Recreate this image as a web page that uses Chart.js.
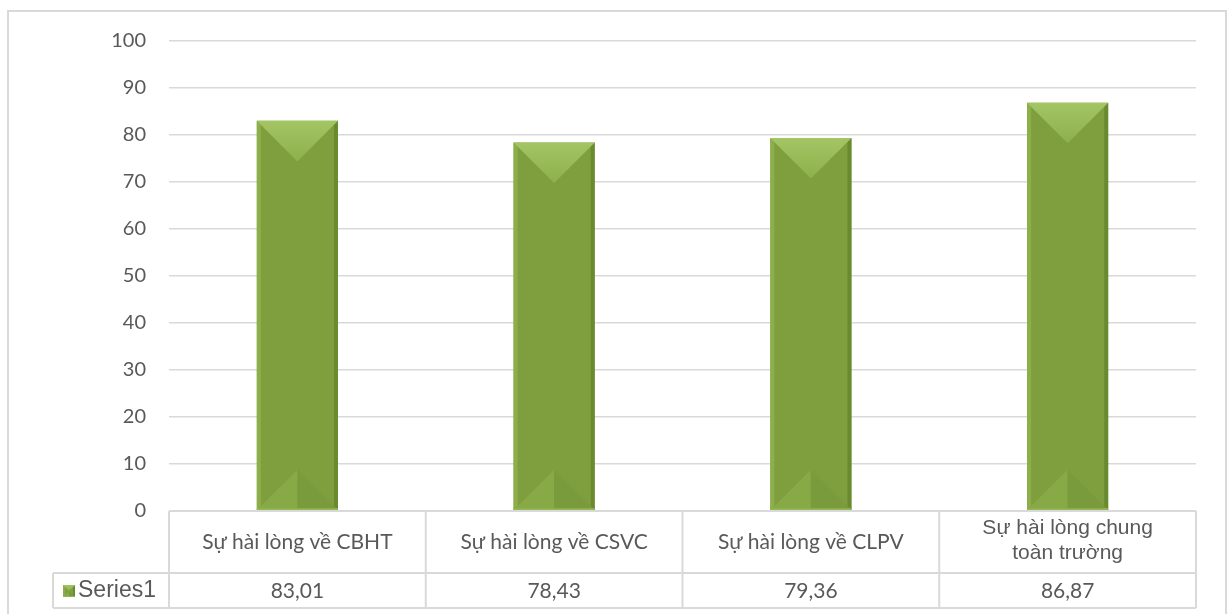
<!DOCTYPE html>
<html lang="vi">
<head>
  <meta charset="UTF-8" />
  <title>Sự hài lòng</title>
  <script src="https://cdn.jsdelivr.net/npm/chart.js"></script>
  <style>
    body {
      margin: 0;
      background: #ffffff;
      overflow: hidden;
    }
    #frame {
      position: absolute;
      left: 7px;
      top: 10px;
      width: 1216px;
      height: 620px;
      border: 2px solid #d9d9d9;
    }
    #satChart {
      position: absolute;
      left: 0;
      top: 0;
    }
  </style>
</head>
<body>
  <div id="frame"></div>
  <canvas id="satChart" width="1227" height="614"></canvas>

  <script>
    // du lieu doc tu bieu do
    const categories = [
      ["Sự hài lòng về CBHT"],
      ["Sự hài lòng về CSVC"],
      ["Sự hài lòng về CLPV"],
      ["Sự hài lòng chung", "toàn trường"]
    ];
    const seriesName = "Series1";
    const seriesValues = [83.01, 78.43, 79.36, 86.87];
    const yTicks = [0, 10, 20, 30, 40, 50, 60, 70, 80, 90, 100];

    const gridColor = "#d9d9d9";
    const textColor = "#595959";
    const calibriLike = "Lato, 'Open Sans', sans-serif";
    const arialLike = "'Liberation Sans', Arial, sans-serif";

    function fmt(v) {
      return v.toFixed(2).replace(".", ",");
    }

    function poly(ctx, pts, fill) {
      ctx.beginPath();
      ctx.moveTo(pts[0][0], pts[0][1]);
      for (let i = 1; i < pts.length; i++) ctx.lineTo(pts[i][0], pts[i][1]);
      ctx.closePath();
      ctx.fillStyle = fill;
      ctx.fill();
    }

    // hieu ung vat canh (bevel) giong Excel
    function bevel(ctx, L, T, R, B, e) {
      const w = R - L;
      const cx = (L + R) / 2;
      const d = Math.min(w / 2, (B - T) / 2);
      poly(ctx, [[L, T], [L + e, T + e], [L + e, B - e], [L, B]], "#8daf4b");
      poly(ctx, [[R, T], [R - e, T + e], [R - e, B - e], [R, B]], "#6a8a30");
      const g = ctx.createLinearGradient(0, T, 0, T + d);
      g.addColorStop(0, "#a3c564");
      g.addColorStop(1, "#8db04b");
      poly(ctx, [[L, T], [R, T], [cx, T + d]], g);
      poly(ctx, [[L, B], [cx, B - d], [cx, B]], "#88aa46");
      poly(ctx, [[cx, B], [cx, B - d], [R, B]], "#7a9b3c");
      ctx.fillStyle = "#93b552";
      ctx.fillRect(L, B - e / 2, w, e / 2);
    }

    const bevelPlugin = {
      id: "bevel",
      afterDatasetsDraw(chart) {
        const ctx = chart.ctx;
        const meta = chart.getDatasetMeta(0);
        ctx.save();
        meta.data.forEach((bar) => {
          const L = bar.x - bar.width / 2;
          const R = bar.x + bar.width / 2;
          bevel(ctx, L, bar.y, R, bar.base, 4);
        });
        ctx.restore();
      }
    };

    // bang du lieu duoi truc x
    const tablePlugin = {
      id: "dataTable",
      afterDraw(chart) {
        const ctx = chart.ctx;
        const xs = chart.scales.x;
        const area = chart.chartArea;
        const top = area.bottom;
        const mid = top + 62;
        const bot = top + 97;
        const legendLeft = 53;
        const half = (xs.getPixelForValue(1) - xs.getPixelForValue(0)) / 2;

        ctx.save();
        ctx.strokeStyle = gridColor;
        ctx.lineWidth = 2;
        ctx.beginPath();
        ctx.moveTo(area.left, top); ctx.lineTo(area.right, top);
        ctx.moveTo(legendLeft, mid); ctx.lineTo(area.right, mid);
        ctx.moveTo(legendLeft, bot); ctx.lineTo(area.right, bot);
        ctx.moveTo(legendLeft, mid); ctx.lineTo(legendLeft, bot);
        ctx.moveTo(area.left, top); ctx.lineTo(area.left, bot);
        categories.forEach((c, i) => {
          const xr = xs.getPixelForValue(i) + half;
          ctx.moveTo(xr, top); ctx.lineTo(xr, bot);
        });
        ctx.stroke();

        ctx.fillStyle = textColor;
        ctx.textAlign = "center";
        ctx.textBaseline = "middle";
        categories.forEach((c, i) => {
          const x = xs.getPixelForValue(i);
          if (c.length > 1) {
            ctx.font = "21px " + arialLike;
            c.forEach((line, k) => {
              ctx.fillText(line, x, top + 17 + k * 25);
            });
          } else {
            ctx.font = "21px " + calibriLike;
            ctx.fillText(c[0], x, top + 31);
          }
          ctx.font = "21px " + calibriLike;
          ctx.fillText(fmt(seriesValues[i]), x, mid + 18);
        });

        // o chu giai Series1
        const mx = 63, my = mid + 12, mw = 12, mh = 12;
        ctx.fillStyle = "#7f9f3f";
        ctx.fillRect(mx, my, mw, mh);
        bevel(ctx, mx, my, mx + mw, my + mh, 2);
        ctx.fillStyle = textColor;
        ctx.textAlign = "left";
        ctx.font = "23px " + arialLike;
        ctx.fillText(seriesName, 78, mid + 18);
        ctx.restore();
      }
    };

    const chart = new Chart(document.getElementById("satChart"), {
      type: "bar",
      data: {
        labels: categories,
        datasets: [{
          label: seriesName,
          data: seriesValues,
          backgroundColor: "#7f9f3f",
          borderWidth: 0,
          categoryPercentage: 1,
          barPercentage: 0.316
        }]
      },
      options: {
        responsive: false,
        animation: false,
        devicePixelRatio: 1,
        layout: {
          padding: { top: 41, left: 0, right: 31, bottom: 103 }
        },
        plugins: {
          legend: { display: false },
          tooltip: { enabled: false }
        },
        scales: {
          x: {
            display: false
          },
          y: {
            min: 0,
            max: 100,
            afterBuildTicks(scale) {
              scale.ticks = yTicks.map((v) => ({ value: v }));
            },
            afterFit(scale) {
              scale.width = 169;
            },
            border: { display: false },
            grid: {
              color: gridColor,
              lineWidth: 1.5,
              drawTicks: false
            },
            ticks: {
              padding: 23,
              color: textColor,
              font: { family: calibriLike, size: 20 }
            }
          }
        }
      },
      plugins: [bevelPlugin, tablePlugin]
    });
  </script>
</body>
</html>
